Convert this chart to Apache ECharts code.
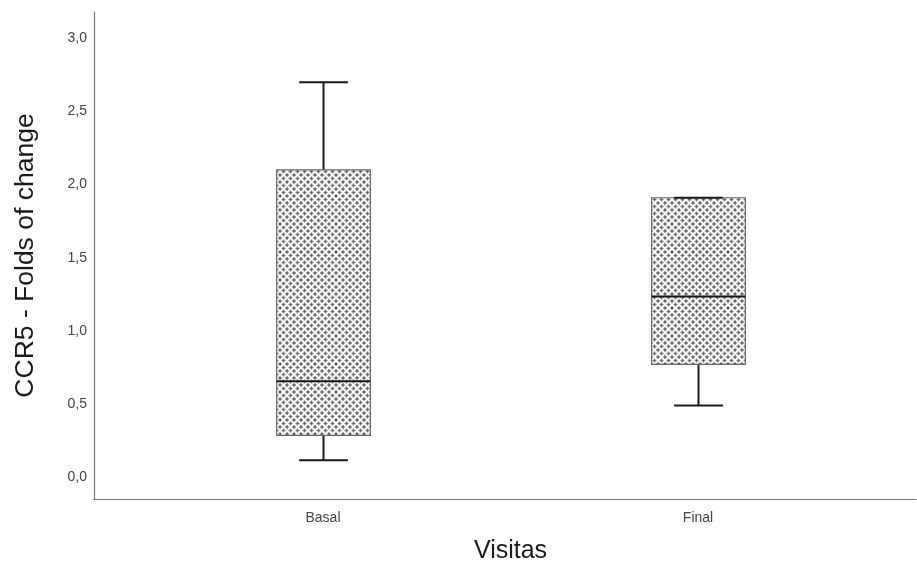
<!DOCTYPE html>
<html>
<head>
<meta charset="utf-8">
<script src="https://cdn.jsdelivr.net/npm/echarts@6/dist/echarts.min.js"></script>
<style>
  html, body { margin: 0; padding: 0; background: #fff; }
  #chart { width: 917px; height: 563px; }
</style>
</head>
<body>
<div id="chart"></div>
<script>
// Visit groups on the horizontal axis
const visits = ['Basal', 'Final'];
// Five-number summaries per visit: [min, Q1, median, Q3, max]
const basalStats = [0.115, 0.285, 0.655, 2.10, 2.70];
const finalStats = [0.49, 0.77, 1.235, 1.91, 1.91];
// Value axis range and tick step
const yMin = -0.15;
const yMax = 3.18;
const yStep = 0.5;

const boxRows = [
  [0].concat(basalStats),
  [1].concat(finalStats)
];

// Cross-hatch fill: soft plus marks on a diagonal lattice
function makeHatch() {
  const c = document.createElement('canvas');
  const s = 7;
  c.width = s; c.height = s;
  const g = c.getContext('2d');
  g.fillStyle = '#ffffff';
  g.fillRect(0, 0, s, s);
  const plus = (x, y) => {
    g.fillStyle = 'rgba(95,95,95,0.7)';
    g.fillRect(x - 2.1, y - 0.75, 4.2, 1.5);
    g.fillRect(x - 0.75, y - 2.1, 1.5, 4.2);
    g.fillStyle = 'rgba(60,60,60,0.6)';
    g.fillRect(x - 0.75, y - 0.75, 1.5, 1.5);
  };
  [[0, 0], [s, 0], [0, s], [s, s]].forEach(p => plus(p[0], p[1]));
  plus(s / 2, s / 2);
  return c;
}
const hatch = makeHatch();

function renderBox(params, api) {
  const idx = api.value(0);
  const lo = api.coord([idx, api.value(1)]);
  const q1 = api.coord([idx, api.value(2)]);
  const med = api.coord([idx, api.value(3)]);
  const q3 = api.coord([idx, api.value(4)]);
  const hi = api.coord([idx, api.value(5)]);
  const bandW = api.size([1, 0])[0];
  const halfBox = bandW * 0.125;
  const halfCap = halfBox * 0.52;
  const x = Math.round(lo[0]) + 0.5;
  const lineStyle = { stroke: '#1a1a1a', lineWidth: 2 };
  return {
    type: 'group',
    children: [
      { type: 'line', shape: { x1: x, y1: q3[1], x2: x, y2: hi[1] }, style: lineStyle },
      { type: 'line', shape: { x1: x, y1: q1[1], x2: x, y2: lo[1] }, style: lineStyle },
      {
        type: 'rect',
        shape: { x: x - halfBox, y: q3[1], width: halfBox * 2, height: q1[1] - q3[1] },
        style: {
          fill: { image: hatch, repeat: 'repeat' },
          stroke: '#666666',
          lineWidth: 1.2
        }
      },
      { type: 'line', shape: { x1: x - halfBox, y1: med[1], x2: x + halfBox, y2: med[1] }, style: lineStyle },
      { type: 'line', shape: { x1: x - halfCap, y1: hi[1], x2: x + halfCap, y2: hi[1] }, style: lineStyle },
      { type: 'line', shape: { x1: x - halfCap, y1: lo[1], x2: x + halfCap, y2: lo[1] }, style: lineStyle }
    ]
  };
}

const chart = echarts.init(document.getElementById('chart'), null, { renderer: 'canvas' });
const font = 'Liberation Sans, Arial, sans-serif';

chart.setOption({
  animation: false,
  backgroundColor: '#ffffff',
  grid: [
    { left: 94, right: 1, top: 12, bottom: 64, outerBoundsMode: 'none', containLabel: false },
    { left: 135.5, right: 31.5, top: 12, bottom: 64, outerBoundsMode: 'none', containLabel: false }
  ],
  xAxis: [
    {
      gridIndex: 0, type: 'value', min: 0, max: 1,
      axisLine: { show: true, onZero: false, lineStyle: { color: '#777', width: 1.2 } },
      axisTick: { show: false }, axisLabel: { show: false }, splitLine: { show: false }
    },
    {
      gridIndex: 1, type: 'category', data: visits,
      axisLine: { show: false, onZero: false }, axisTick: { show: false }, splitLine: { show: false },
      axisLabel: { color: '#444', fontSize: 14, fontFamily: font, margin: 12 },
      name: 'Visitas', nameLocation: 'middle', nameGap: 40,
      nameTextStyle: { color: '#1a1a1a', fontSize: 25, fontFamily: font }
    }
  ],
  yAxis: [
    {
      gridIndex: 0, type: 'value', min: yMin, max: yMax, interval: yStep,
      axisLine: { show: true, lineStyle: { color: '#777', width: 1.2 } },
      axisTick: { show: false }, splitLine: { show: false },
      axisLabel: {
        color: '#444', fontSize: 14, fontFamily: font, margin: 7,
        customValues: [0, 0.5, 1, 1.5, 2, 2.5, 3],
        formatter: v => v.toFixed(1).replace('.', ',')
      },
      name: 'CCR5 - Folds of change', nameLocation: 'middle', nameGap: 55,
      nameTextStyle: { color: '#1a1a1a', fontSize: 26.5, fontFamily: font }
    },
    {
      gridIndex: 1, type: 'value', min: yMin, max: yMax, show: false
    }
  ],
  series: [{
    type: 'custom',
    xAxisIndex: 1,
    yAxisIndex: 1,
    renderItem: renderBox,
    encode: { x: 0, y: [1, 2, 3, 4, 5] },
    data: boxRows
  }]
});
</script>
</body>
</html>
